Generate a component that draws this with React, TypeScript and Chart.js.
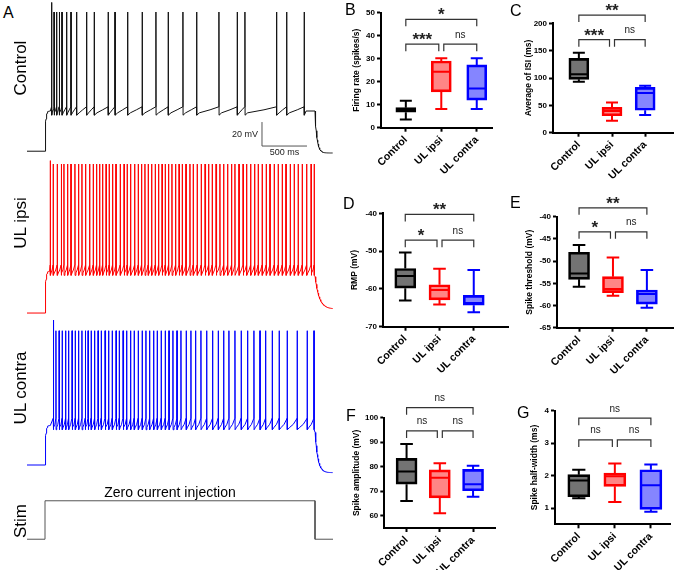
import React, { useEffect, useRef } from 'react';
import { Chart, registerables } from 'chart.js';

Chart.register(...registerables);

const FONT = '"Liberation Sans", Arial, Helvetica, sans-serif';
Chart.defaults.font.family = FONT;

// ---------------- A: current-clamp recordings ----------------
const recordStart = -200; // ms
const recordEnd = 3200;
const stepOn = 0;
const stepOff = 3000;

// spike times, ms after current onset
const controlSpikes = [74, 100, 130, 159, 189, 241, 289, 352, 463, 548, 703, 778, 919, 1081, 1233, 1370, 1533, 1686, 1933, 2137, 2222, 2574, 2686, 2881];
const ipsiSpikes = [59, 92, 137, 181, 211, 252, 289, 333, 374, 411, 452, 497, 537, 574, 608, 641, 678, 714, 752, 789, 837, 878, 914, 952, 997, 1037, 1074, 1111, 1148, 1186, 1226, 1263, 1300, 1337, 1374, 1411, 1452, 1489, 1526, 1567, 1611, 1648, 1692, 1737, 1778, 1819, 1859, 1900, 1944, 1986, 2030, 2074, 2111, 2156, 2200, 2241, 2286, 2330, 2370, 2414, 2459, 2500, 2548, 2592, 2637, 2678, 2726, 2770, 2814, 2859, 2908, 2956, 2992];
const contraSpikes = [92, 122, 156, 192, 230, 263, 300, 337, 374, 411, 448, 478, 514, 552, 589, 626, 667, 708, 748, 789, 826, 867, 908, 952, 992, 1037, 1081, 1122, 1163, 1208, 1248, 1292, 1337, 1378, 1422, 1467, 1511, 1570, 1622, 1674, 1733, 1797, 1863, 1926, 1986, 2044, 2111, 2181, 2252, 2322, 2389, 2452, 2526, 2603, 2692, 2803, 2914, 2989];

// membrane levels, mV: [rest, AHP trough, threshold, peak, first peak, rest after step]
const controlLevels = [-68, -36, -31, 48, 56, -69.5];
const ipsiLevels = [-70, -36.6, -30, 54.2, 57, -66.6];
const contraLevels = [-70, -38.6, -31.1, 41.9, 50.8, -76.4];
// repolarisation time constant after the step, ms
const controlTau = 22;
const ipsiTau = 45;
const contraTau = 30;

// stimulus command
const stimTime = [-200, 0, 0, 3000, 3000, 3200];
const stimLevel = [0, 0, 1, 1, 0, 0];

// scale bar: origin (ms, mV) and lengths
const scaleBarOrigin = [2411, -63.7];
const scaleBarMs = 500;
const scaleBarMv = 20;

// ---------------- B-G: group summaries ----------------
const groups = ['Control', 'UL ipsi', 'UL contra'];
const boxFill = ['rgba(0,0,0,0.55)', 'rgba(255,0,0,0.48)', 'rgba(0,0,255,0.48)'];
const boxStroke = ['#000000', '#ff0000', '#0000ff'];

// [min, Q1, median, Q3, max] per group
const firingRate = [[3.6, 6.7, 7.7, 8.7, 11.7], [8.1, 15.6, 24.3, 29, 30.2], [8.1, 12, 17, 27.3, 30.2]];
const isiMean = [[93, 97.6, 107, 136, 146], [22, 31, 39.7, 46.4, 55], [32.4, 41, 72.6, 83, 86]];
const rmp = [[-63.1, -59.8, -56.6, -54.6, -50.4], [-64.1, -62.9, -60.3, -58.9, -54.7], [-66.2, -64.3, -63.7, -61.7, -55]];
const spikeThreshold = [[-55.8, -54.1, -52.8, -48, -46.4], [-57.8, -57.1, -56.3, -53.5, -49.2], [-60.5, -59.7, -57.4, -56.5, -52]];
const spikeAmplitude = [[66, 72.9, 78, 83.4, 89.3], [61, 67.3, 75.5, 78.7, 81.4], [67.8, 70.2, 72.8, 78.9, 80.4]];
const halfWidth = [[1.3, 1.35, 1.85, 2.03, 2.18], [1.19, 1.67, 1.98, 2.08, 2.37], [0.89, 0.96, 1.7, 2.18, 2.34]];

// comparisons: [group a, group b, label, bracket level in axis units]
const firingSig: [number, number, string, number][] = [[0, 2, '*', 47.1], [0, 1, '***', 36.3], [1, 2, 'ns', 36.3]];
const isiSig: [number, number, string, number][] = [[0, 2, '**', 215], [0, 1, '***', 170], [1, 2, 'ns', 170]];
const rmpSig: [number, number, string, number][] = [[0, 2, '**', -40.3], [0, 1, '*', -47.1], [1, 2, 'ns', -47.1]];
const thresholdSig: [number, number, string, number][] = [[0, 2, '**', -38], [0, 1, '*', -43.4], [1, 2, 'ns', -43.4]];
const amplitudeSig: [number, number, string, number][] = [[0, 2, 'ns', 104.1], [0, 1, 'ns', 94.6], [1, 2, 'ns', 94.6]];
const halfWidthSig: [number, number, string, number][] = [[0, 2, 'ns', 3.77], [0, 1, 'ns', 3.1], [1, 2, 'ns', 3.1]];

// y-axis ticks
const firingTicks = [0, 10, 20, 30, 40, 50];
const isiTicks = [0, 50, 100, 150, 200];
const rmpTicks = [-70, -60, -50, -40];
const thresholdTicks = [-65, -60, -55, -50, -45, -40];
const amplitudeTicks = [60, 70, 80, 90, 100];
const halfWidthTicks = [1, 2, 3, 4];

type Pt = { x: number; y: number };

// membrane trace from spike times and membrane levels
function buildTrace(spikes: number[], levels: number[], tau: number): Pt[] {
  const [rest, trough, thr, peak, firstPeak, after] = levels;
  const plateau = trough + 1.5;
  const pts: Pt[] = [{ x: recordStart, y: rest }, { x: stepOn, y: rest }];
  const riseEnd = Math.min(spikes[0] - 4, 60);
  for (let t = 1; t <= riseEnd; t += 2) {
    pts.push({ x: t, y: rest + (plateau - rest) * (1 - Math.exp(-t / 8)) });
  }
  spikes.forEach((s, i) => {
    const next = spikes[i + 1];
    pts.push({ x: s - 1, y: thr }, { x: s, y: i === 0 ? firstPeak : peak }, { x: s + 1.2, y: trough - 2 });
    if (next !== undefined) {
      const isi = next - s;
      pts.push({ x: s + Math.min(isi * 0.25, 30), y: trough }, { x: s + isi * 0.6, y: plateau + 1 }, { x: next - 2, y: thr });
    } else if (s + 20 < stepOff) {
      pts.push({ x: s + 20, y: plateau }, { x: stepOff, y: plateau });
    }
  });
  const endLevel = pts[pts.length - 1].y;
  for (let t = stepOff + 2; t <= recordEnd; t += 4) {
    pts.push({ x: t, y: after + (endLevel - after) * Math.exp(-(t - stepOff) / tau) });
  }
  return pts;
}

const scaleBarPlugin = {
  id: 'scaleBar',
  afterDatasetsDraw(chart: any) {
    const { ctx, scales } = chart;
    const x = scales.x;
    const y = scales.y;
    const x0 = x.getPixelForValue(scaleBarOrigin[0]);
    const x1 = x.getPixelForValue(scaleBarOrigin[0] + scaleBarMs);
    const y0 = y.getPixelForValue(scaleBarOrigin[1]);
    const y1 = y.getPixelForValue(scaleBarOrigin[1] + scaleBarMv);
    ctx.save();
    ctx.strokeStyle = '#555';
    ctx.lineWidth = 1;
    ctx.beginPath();
    ctx.moveTo(x0, y1);
    ctx.lineTo(x0, y0);
    ctx.lineTo(x1, y0);
    ctx.stroke();
    ctx.fillStyle = '#222';
    ctx.font = `9px ${FONT}`;
    ctx.textAlign = 'right';
    ctx.textBaseline = 'middle';
    ctx.fillText(`${scaleBarMv} mV`, x0 - 4, (y0 + y1) / 2);
    ctx.textAlign = 'center';
    ctx.textBaseline = 'top';
    ctx.fillText(`${scaleBarMs} ms`, (x0 + x1) / 2, y0 + 2);
    ctx.restore();
  },
};

function traceChart(canvas: HTMLCanvasElement, data: Pt[], color: string, yMin: number, yMax: number, plugins: any[] = []) {
  return new Chart(canvas, {
    type: 'line',
    data: { datasets: [{ data, borderColor: color, borderWidth: 1, pointRadius: 0, tension: 0, fill: false }] },
    options: {
      animation: false,
      responsive: false,
      devicePixelRatio: 1,
      events: [],
      layout: { padding: 0 },
      plugins: { legend: { display: false }, tooltip: { enabled: false } },
      scales: {
        x: { type: 'linear', min: recordStart, max: recordEnd, display: false },
        y: { type: 'linear', min: yMin, max: yMax, display: false },
      },
    },
    plugins,
  } as any);
}

interface BoxLayout {
  left: number; top: number; width: number; height: number;
  axisX: number; right: number; plotTop: number; plotBottom: number;
  xMin: number; xMax: number; boxW: number;
}

function boxPlugin(stats: number[][], sig: [number, number, string, number][], lay: BoxLayout) {
  return {
    id: 'boxWhiskers',
    afterDatasetsDraw(chart: any) {
      const { ctx, scales } = chart;
      const x = scales.x;
      const y = scales.y;
      ctx.save();
      stats.forEach((s, i) => {
        const cx = x.getPixelForValue(i);
        const [mn, , md, , mx] = s.map((v) => y.getPixelForValue(v));
        const q1 = y.getPixelForValue(s[1]);
        const q3 = y.getPixelForValue(s[3]);
        const half = lay.boxW / 2;
        const cap = lay.boxW * 0.3;
        ctx.strokeStyle = boxStroke[i];
        ctx.lineWidth = 2;
        ctx.beginPath();
        ctx.moveTo(cx, q3); ctx.lineTo(cx, mx);
        ctx.moveTo(cx - cap, mx); ctx.lineTo(cx + cap, mx);
        ctx.moveTo(cx, q1); ctx.lineTo(cx, mn);
        ctx.moveTo(cx - cap, mn); ctx.lineTo(cx + cap, mn);
        ctx.moveTo(cx - half + 1, md); ctx.lineTo(cx + half - 1, md);
        ctx.stroke();
      });
      ctx.strokeStyle = '#333';
      ctx.lineWidth = 1.2;
      ctx.fillStyle = '#222';
      ctx.textAlign = 'center';
      ctx.textBaseline = 'alphabetic';
      sig.forEach(([a, b, label, level]) => {
        const xa = x.getPixelForValue(a) + (a === 1 ? 2.5 : 0);
        const xb = x.getPixelForValue(b) - (b === 1 ? 2.5 : 0);
        const yy = y.getPixelForValue(level);
        ctx.beginPath();
        ctx.moveTo(xa, yy + 7);
        ctx.lineTo(xa, yy);
        ctx.lineTo(xb, yy);
        ctx.lineTo(xb, yy + 7);
        ctx.stroke();
        const mid = (xa + xb) / 2;
        if (label === 'ns') {
          ctx.font = `10px ${FONT}`;
          ctx.fillText(label, mid, yy - 6.5);
        } else {
          ctx.font = `bold 17px ${FONT}`;
          ctx.fillText(label, mid, yy + 1);
        }
      });
      ctx.restore();
    },
  };
}

function boxChart(canvas: HTMLCanvasElement, stats: number[][], ticks: number[], yMin: number, yMax: number, title: string, sig: [number, number, string, number][], lay: BoxLayout) {
  const yAxisW = lay.axisX - lay.left;
  const xAxisH = lay.top + lay.height - lay.plotBottom;
  const axisGrid = { display: true, drawOnChartArea: false, drawTicks: true, tickLength: 4, tickWidth: 2, tickColor: '#000', offset: false };
  const axisBorder = { display: true, color: '#000', width: 2 };
  return new Chart(canvas, {
    type: 'bar',
    data: {
      datasets: [{
        data: stats.map((s, i) => ({ x: i, y: [s[1], s[3]] })),
        backgroundColor: boxFill,
        borderColor: boxStroke,
        borderWidth: 2,
        borderSkipped: false,
        barThickness: lay.boxW,
      }],
    },
    options: {
      animation: false,
      responsive: false,
      devicePixelRatio: 1,
      events: [],
      layout: { padding: { top: lay.plotTop - lay.top, right: lay.left + lay.width - lay.right, left: 0, bottom: 0 } },
      plugins: { legend: { display: false }, tooltip: { enabled: false } },
      scales: {
        x: {
          type: 'linear', min: lay.xMin, max: lay.xMax, offset: false,
          afterBuildTicks: (s: any) => { s.ticks = groups.map((_, i) => ({ value: i })); },
          afterFit: (s: any) => { s.height = xAxisH; },
          ticks: {
            callback: (v: any) => groups[v], autoSkip: false, minRotation: 45, maxRotation: 45,
            color: '#000', font: { family: FONT, size: 10.5, weight: 'bold' }, padding: 2,
          },
          grid: axisGrid, border: axisBorder,
        },
        y: {
          type: 'linear', min: yMin, max: yMax,
          afterBuildTicks: (s: any) => { s.ticks = ticks.map((v) => ({ value: v })); },
          afterFit: (s: any) => { s.width = yAxisW; },
          ticks: { color: '#000', font: { family: FONT, size: 8, weight: 'bold' }, padding: 2 },
          grid: axisGrid, border: axisBorder,
          title: { display: true, text: title, color: '#000', font: { family: FONT, size: 8.5, weight: 'bold' }, padding: { top: 1, bottom: 0 } },
        },
      },
    },
    plugins: [boxPlugin(stats, sig, lay)],
  } as any);
}

function ChartCanvas({ left, top, width, height, make }: { left: number; top: number; width: number; height: number; make: (c: HTMLCanvasElement) => Chart }) {
  const ref = useRef<HTMLCanvasElement>(null);
  useEffect(() => {
    const chart = make(ref.current as HTMLCanvasElement);
    return () => chart.destroy();
  }, []);
  return (
    <canvas ref={ref} width={width} height={height}
      style={{ position: 'absolute', left, top, width, height }} />
  );
}

function RowLabel({ text, cx, cy }: { text: string; cx: number; cy: number }) {
  const w = 100;
  const h = 20;
  return (
    <div style={{
      position: 'absolute', left: cx - w / 2, top: cy - h / 2, width: w, height: h,
      lineHeight: `${h}px`, textAlign: 'center', fontSize: 17, whiteSpace: 'nowrap',
      transform: 'rotate(-90deg)', color: '#000',
    }}>{text}</div>
  );
}

function Letter({ text, left, top }: { text: string; left: number; top: number }) {
  return <div style={{ position: 'absolute', left, top, fontSize: 16, lineHeight: '16px', color: '#000' }}>{text}</div>;
}

const layB: BoxLayout = { left: 351, top: 0, width: 147, height: 183, axisX: 381, right: 492, plotTop: 12.7, plotBottom: 127.7, xMin: -0.7, xMax: 2.43, boxW: 20 };
const layC: BoxLayout = { left: 523, top: 0, width: 153, height: 188, axisX: 553, right: 673, plotTop: 23.3, plotBottom: 132.7, xMin: -0.78, xMax: 2.84, boxW: 20 };
const layD: BoxLayout = { left: 349, top: 190, width: 165, height: 192, axisX: 383, right: 508, plotTop: 213.3, plotBottom: 326.7, xMin: -0.65, xMax: 3.0, boxW: 21 };
const layE: BoxLayout = { left: 524, top: 190, width: 152, height: 192, axisX: 557, right: 673, plotTop: 216.7, plotBottom: 327.7, xMin: -0.65, xMax: 2.77, boxW: 21 };
const layF: BoxLayout = { left: 351, top: 392, width: 150, height: 178, axisX: 384.3, right: 495, plotTop: 417.7, plotBottom: 528, xMin: -0.67, xMax: 2.66, boxW: 21 };
const layG: BoxLayout = { left: 529, top: 392, width: 147, height: 178, axisX: 555, right: 670, plotTop: 410.7, plotBottom: 524.3, xMin: -0.66, xMax: 2.53, boxW: 22 };

export default function App() {
  const stimData = stimTime.map((t, i) => ({ x: t, y: stimLevel[i] }));
  return (
    <div style={{ position: 'absolute', left: 0, top: 0, width: 676, height: 570, overflow: 'hidden', background: '#fff', fontFamily: FONT }}>
      <ChartCanvas left={27} top={0} width={306} height={160}
        make={(c) => traceChart(c, buildTrace(controlSpikes, controlLevels, controlTau), '#111', -75.33, 58, [scaleBarPlugin])} />
      <ChartCanvas left={27} top={155} width={306} height={165}
        make={(c) => traceChart(c, buildTrace(ipsiSpikes, ipsiLevels, ipsiTau), '#ff0000', -75.8, 61.7)} />
      <ChartCanvas left={27} top={315} width={306} height={165}
        make={(c) => traceChart(c, buildTrace(contraSpikes, contraLevels, contraTau), '#0000ff', -82.5, 55)} />
      <ChartCanvas left={27} top={495} width={306} height={50}
        make={(c) => traceChart(c, stimData, '#555', -0.15, 1.15)} />

      <Letter text="A" left={3} top={5} />
      <RowLabel text="Control" cx={21} cy={68} />
      <RowLabel text="UL ipsi" cx={21} cy={223} />
      <RowLabel text="UL contra" cx={21} cy={388} />
      <RowLabel text="Stim" cx={21} cy={521} />
      <div style={{ position: 'absolute', left: 70, top: 485, width: 200, textAlign: 'center', fontSize: 14, lineHeight: '14px', color: '#000' }}>Zero current injection</div>

      <ChartCanvas left={layB.left} top={layB.top} width={layB.width} height={layB.height}
        make={(c) => boxChart(c, firingRate, firingTicks, 0, 50, 'Firing rate (spikes/s)', firingSig, layB)} />
      <ChartCanvas left={layC.left} top={layC.top} width={layC.width} height={layC.height}
        make={(c) => boxChart(c, isiMean, isiTicks, 0, 200, 'Average of ISI (ms)', isiSig, layC)} />
      <ChartCanvas left={layD.left} top={layD.top} width={layD.width} height={layD.height}
        make={(c) => boxChart(c, rmp, rmpTicks, -70, -40, 'RMP (mV)', rmpSig, layD)} />
      <ChartCanvas left={layE.left} top={layE.top} width={layE.width} height={layE.height}
        make={(c) => boxChart(c, spikeThreshold, thresholdTicks, -65, -40, 'Spike threshold (mV)', thresholdSig, layE)} />
      <ChartCanvas left={layF.left} top={layF.top} width={layF.width} height={layF.height}
        make={(c) => boxChart(c, spikeAmplitude, amplitudeTicks, 55, 100, 'Spike amplitude (mV)', amplitudeSig, layF)} />
      <ChartCanvas left={layG.left} top={layG.top} width={layG.width} height={layG.height}
        make={(c) => boxChart(c, halfWidth, halfWidthTicks, 0.5, 4, 'Spike half-width (ms)', halfWidthSig, layG)} />

      <Letter text="B" left={345} top={2} />
      <Letter text="C" left={510} top={3} />
      <Letter text="D" left={343} top={196} />
      <Letter text="E" left={510} top={195} />
      <Letter text="F" left={346} top={408} />
      <Letter text="G" left={517} top={405} />
    </div>
  );
}
